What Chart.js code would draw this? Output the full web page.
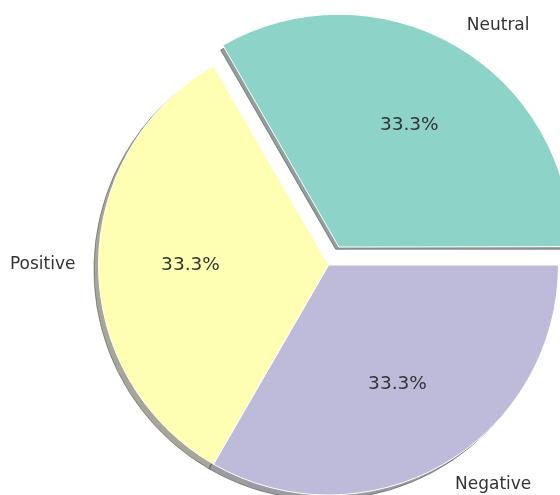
<!DOCTYPE html>
<html>
<head>
<meta charset="utf-8">
<script src="https://cdn.jsdelivr.net/npm/chart.js@4/dist/chart.umd.min.js"></script>
<style>
  html, body { margin: 0; padding: 0; background: #fff; overflow: hidden; }
  #wrap { width: 560px; height: 495px; position: relative; }
</style>
</head>
<body>
<div id="wrap"><canvas id="pieChart"></canvas></div>
<script>
// clockwise order as Chart.js draws it
const categorias = ['Neutral', 'Negative', 'Positive'];
const valores = [1, 1, 1];
const cores = ['#8dd3c7', '#bebada', '#ffffb3'];
const destaque = [83, 0, 0]; // Neutral pulled out

function deslocamento(arc) {
    // same shift that ArcElement.draw applies for its offset
    const off = (arc.options.offset || 0) / 4;
    const circ = arc.endAngle - arc.startAngle;
    const fix = 1 - Math.sin(Math.min(Math.PI, circ));
    const meio = (arc.startAngle + arc.endAngle) / 2;
    const d = off + off * fix;
    return { dx: Math.cos(meio) * d, dy: Math.sin(meio) * d, meio: meio };
}

function escurecer(hex) {
    const r = parseInt(hex.slice(1, 3), 16) * 0.3;
    const g = parseInt(hex.slice(3, 5), 16) * 0.3;
    const b = parseInt(hex.slice(5, 7), 16) * 0.3;
    return `rgba(${Math.round(r)}, ${Math.round(g)}, ${Math.round(b)}, 0.5)`;
}

const sombraPlugin = {
    id: 'sombra',
    beforeDatasetsDraw(chart) {
        const ctx = chart.ctx;
        const meta = chart.getDatasetMeta(0);
        meta.data.forEach((arc, i) => {
            const s = deslocamento(arc);
            const sx = arc.outerRadius * -0.02;
            const sy = arc.outerRadius * 0.02;
            ctx.save();
            ctx.translate(s.dx + sx, s.dy + sy);
            ctx.beginPath();
            ctx.moveTo(arc.x, arc.y);
            ctx.arc(arc.x, arc.y, arc.outerRadius, arc.startAngle, arc.endAngle);
            ctx.closePath();
            ctx.fillStyle = escurecer(cores[i]);
            ctx.strokeStyle = escurecer(cores[i]);
            ctx.lineWidth = 1;
            ctx.fill();
            ctx.stroke();
            ctx.restore();
        });
    }
};

const rotulosPlugin = {
    id: 'rotulos',
    afterDatasetsDraw(chart) {
        const ctx = chart.ctx;
        const meta = chart.getDatasetMeta(0);
        const total = valores.reduce((a, b) => a + b, 0);
        ctx.save();
        ctx.fillStyle = '#333333';
        ctx.textBaseline = 'middle';
        meta.data.forEach((arc, i) => {
            const s = deslocamento(arc);
            const cx = arc.x + s.dx;
            const cy = arc.y + s.dy;
            const r = arc.outerRadius;
            const cos = Math.cos(s.meio);
            const sin = Math.sin(s.meio);

            ctx.font = '18.5px "DejaVu Sans"';
            ctx.textAlign = 'center';
            const pct = (valores[i] / total * 100).toFixed(1) + '%';
            ctx.fillText(pct, cx + cos * r * 0.6, cy + sin * r * 0.6);

            ctx.font = '17px "DejaVu Sans"';
            ctx.textAlign = Math.abs(cos) < 1e-6 ? 'center' : (cos > 0 ? 'left' : 'right');
            ctx.fillText(categorias[i], cx + cos * r * 1.1, cy + sin * r * 1.1);
        });
        ctx.restore();
    }
};

document.addEventListener("DOMContentLoaded", function() {
    const ctx = document.getElementById('pieChart').getContext('2d');
    new Chart(ctx, {
        type: 'pie',
        data: {
            labels: categorias,
            datasets: [{
                data: valores,
                backgroundColor: cores,
                borderColor: '#ffffff',
                borderWidth: 1,
                offset: destaque,
                clip: false
            }]
        },
        options: {
            responsive: true,
            maintainAspectRatio: false,
            animation: false,
            events: [],
            rotation: -30,
            radius: 230,
            layout: {
                padding: { left: 97, right: 0, top: 35, bottom: 0 }
            },
            plugins: {
                legend: { display: false },
                tooltip: { enabled: false }
            }
        },
        plugins: [sombraPlugin, rotulosPlugin]
    });
});
</script>
</body>
</html>
